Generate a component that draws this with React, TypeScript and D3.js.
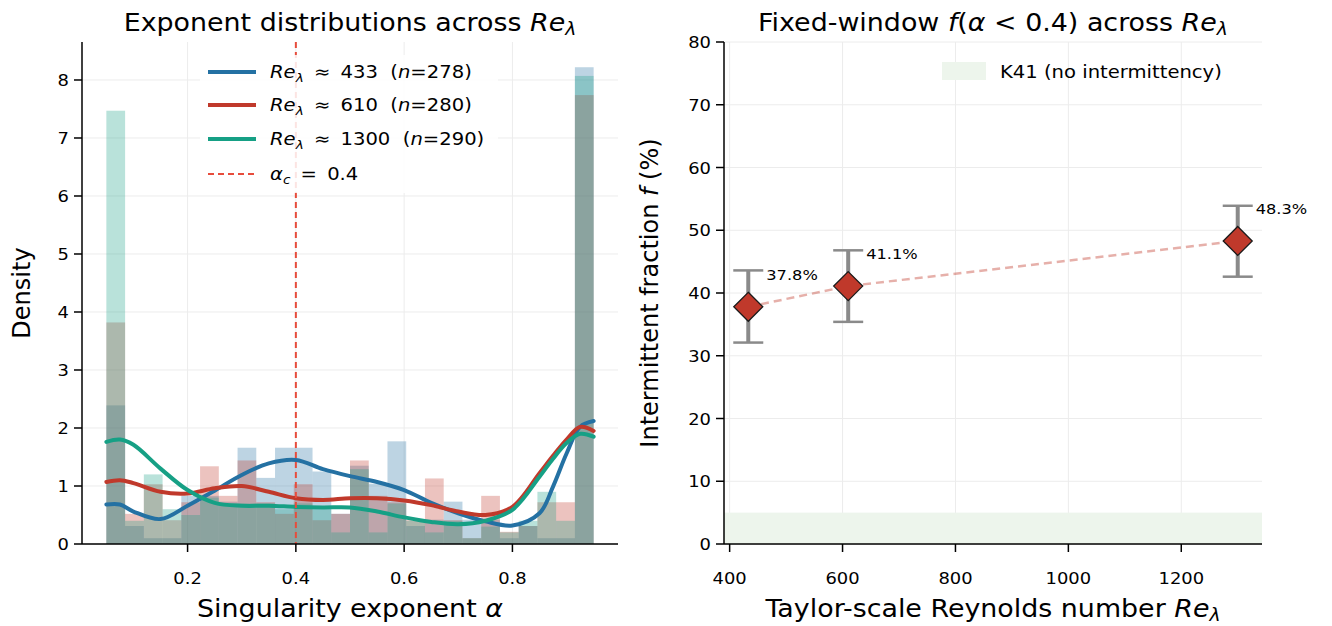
import React from 'react';
import * as d3 from 'd3';

// histogram bins (density), 26 bins across [0.05, 0.95]
const binLow = 0.05;
const binHigh = 0.95;
const histRe433 = [2.39, 0.31, 0.1, 0.1, 0.83, 0.83, 0.73, 1.66, 1.14, 1.66, 1.66, 1.25, 0.52, 1.35, 1.04, 1.77, 0.31, 0.42, 0.73, 0.42, 0.42, 0.1, 0.31, 0.1, 0.1, 8.22];
const histRe610 = [3.82, 0.52, 1.03, 0.41, 0.72, 1.34, 0.83, 1.44, 0.72, 0.52, 1.03, 0.41, 0.52, 1.44, 0.83, 0.72, 0.41, 1.13, 0.41, 0.1, 0.83, 0.21, 0.31, 0.72, 0.72, 7.74];
const histRe1300 = [7.47, 0.4, 1.2, 0.6, 0.5, 0.8, 0.7, 0.7, 0.7, 0.6, 0.7, 0.6, 0.2, 1.29, 0.2, 0.7, 0.4, 0.2, 0.4, 0.1, 0.3, 0.2, 0.4, 0.9, 0.4, 8.07];

// KDE curves
const kdeAlpha = [0.05, 0.075, 0.1, 0.15, 0.2, 0.25, 0.3, 0.35, 0.4, 0.45, 0.5, 0.55, 0.6, 0.65, 0.7, 0.75, 0.8, 0.85, 0.875, 0.9, 0.925, 0.95];
const kdeRe433 = [0.68, 0.68, 0.56, 0.43, 0.66, 0.92, 1.19, 1.39, 1.45, 1.29, 1.17, 1.07, 0.93, 0.71, 0.53, 0.39, 0.32, 0.53, 0.99, 1.56, 2.02, 2.12];
const kdeRe610 = [1.07, 1.1, 1.05, 0.9, 0.87, 0.96, 1.0, 0.9, 0.79, 0.76, 0.79, 0.79, 0.75, 0.67, 0.56, 0.5, 0.64, 1.22, 1.52, 1.8, 2.02, 1.95];
const kdeRe1300 = [1.76, 1.8, 1.71, 1.3, 0.93, 0.71, 0.66, 0.66, 0.64, 0.63, 0.63, 0.56, 0.46, 0.38, 0.34, 0.4, 0.59, 1.16, 1.47, 1.74, 1.9, 1.85];

const seriesRe = [433, 610, 1300];
const seriesN = [278, 280, 290];
const alphaC = 0.4;

// right panel
const reLambda = [433, 610, 1300];
const fracPct = [37.8, 41.1, 48.3];
const fracLow = [32.1, 35.4, 42.6];
const fracHigh = [43.6, 46.8, 53.9];
const k41Band = [0, 5];

const leftXTicks = [0.2, 0.4, 0.6, 0.8];
const leftYTicks = [0, 1, 2, 3, 4, 5, 6, 7, 8];
const rightXTicks = [400, 600, 800, 1000, 1200];
const rightYTicks = [0, 10, 20, 30, 40, 50, 60, 70, 80];

const BLUE = '#2471a3';
const RED = '#c0392b';
const TEAL = '#16a085';
const VLINE = '#e74c3c';
const GRID = '#ececec';
const BAND = '#edf5ec';
const FONT = 'DejaVu Sans, sans-serif';

const TOP = 42;
const BOTTOM = 544;
const SX = 1.12; // the reference text is a little wider than tall
const TICK = 8;

const tickFs = 16;
const labelFs = 24;
const legFs = 17.5;
const noteFs = 14.5;

// horizontally stretched text
function T({ x, y, size, anchor = 'start', children }: any) {
  return (
    <g transform={`translate(${x},${y}) scale(${SX},1)`}>
      <text fontSize={size} textAnchor={anchor}>{children}</text>
    </g>
  );
}

export default function App() {
  const xL = d3.scaleLinear().domain([0.005, 0.995]).range([82, 618]);
  const yL = d3.scaleLinear().domain([0, 8.655]).range([BOTTOM, TOP]);
  const xR = d3.scaleLinear().domain([390, 1343]).range([724, 1262]);
  const yR = d3.scaleLinear().domain([0, 80]).range([BOTTOM, TOP]);

  const nb = histRe433.length;
  const bw = (binHigh - binLow) / nb;
  const hists = [
    { data: histRe433, color: BLUE },
    { data: histRe610, color: RED },
    { data: histRe1300, color: TEAL },
  ];
  const kdes = [
    { data: kdeRe433, color: BLUE },
    { data: kdeRe610, color: RED },
    { data: kdeRe1300, color: TEAL },
  ];
  const kdeLine = d3
    .line<[number, number]>()
    .x((d) => xL(d[0]))
    .y((d) => yL(d[1]))
    .curve(d3.curveCatmullRom.alpha(0.5));

  const pts = reLambda.map((r, i) => ({ r, f: fracPct[i], lo: fracLow[i], hi: fracHigh[i] }));
  const connect = d3
    .line<{ r: number; f: number }>()
    .x((d) => xR(d.r))
    .y((d) => yR(d.f));

  const ls = legFs * 0.22;
  const lbs = labelFs * 0.17;

  return (
    <svg width={1332} height={626} style={{ position: 'absolute', left: 0, top: 0 }} fontFamily={FONT}>
      <rect width={1332} height={626} fill="#fff" />

      {/* ---------- left panel ---------- */}
      <g>
        {leftXTicks.map((t) => (
          <line key={'gx' + t} x1={xL(t)} x2={xL(t)} y1={TOP} y2={BOTTOM} stroke={GRID} strokeWidth={1} />
        ))}
        {leftYTicks.map((t) => (
          <line key={'gy' + t} x1={82} x2={618} y1={yL(t)} y2={yL(t)} stroke={GRID} strokeWidth={1} />
        ))}
        {hists.map((h, k) =>
          h.data.map((v, i) => {
            const x0 = xL(binLow + i * bw);
            const x1 = xL(binLow + (i + 1) * bw);
            return (
              <rect key={k + '-' + i} x={x0} y={yL(v)} width={x1 - x0} height={yL(0) - yL(v)} fill={h.color} fillOpacity={0.3} />
            );
          })
        )}
        {kdes.map((c, k) => (
          <path
            key={'kde' + k}
            d={kdeLine(kdeAlpha.map((a, i) => [a, c.data[i]] as [number, number])) || ''}
            fill="none"
            stroke={c.color}
            strokeWidth={4}
            strokeLinecap="round"
          />
        ))}
        <line x1={xL(alphaC)} x2={xL(alphaC)} y1={TOP} y2={BOTTOM} stroke={VLINE} strokeWidth={2} strokeDasharray="6,4" />

        {/* legend */}
        <rect x={200} y={55} width={298} height={138} fill="#fff" fillOpacity={0.85} rx={3} />
        {seriesRe.map((r, i) => {
          const y = [72, 105, 139][i];
          return (
            <g key={'leg' + i}>
              <line x1={208} x2={256} y1={y} y2={y} stroke={kdes[i].color} strokeWidth={4} />
              <T x={270} y={y + 6} size={legFs}>
                <tspan fontStyle="italic">Re</tspan>
                <tspan fontStyle="italic" fontSize={legFs * 0.7} dy={ls}>λ</tspan>
                <tspan dy={-ls}>{`\u2009 ≈\u2009 ${r}\u00a0\u00a0(`}</tspan>
                <tspan fontStyle="italic">n</tspan>
                <tspan>{`=${seriesN[i]})`}</tspan>
              </T>
            </g>
          );
        })}
        <line x1={208} x2={256} y1={174} y2={174} stroke={VLINE} strokeWidth={2} strokeDasharray="6,4" />
        <T x={270} y={180} size={legFs}>
          <tspan fontStyle="italic">α</tspan>
          <tspan fontStyle="italic" fontSize={legFs * 0.7} dy={ls}>c</tspan>
          <tspan dy={-ls}>{`\u2009 =\u2009 ${alphaC}`}</tspan>
        </T>

        {/* axes */}
        <line x1={82} x2={82} y1={TOP} y2={BOTTOM} stroke="#000" strokeWidth={1.5} />
        <line x1={82} x2={618} y1={BOTTOM} y2={BOTTOM} stroke="#000" strokeWidth={1.5} />
        {leftXTicks.map((t) => (
          <g key={'xt' + t}>
            <line x1={xL(t)} x2={xL(t)} y1={BOTTOM} y2={BOTTOM + TICK} stroke="#000" strokeWidth={1.5} />
            <T x={xL(t)} y={BOTTOM + 40} size={tickFs} anchor="middle">{t.toFixed(1)}</T>
          </g>
        ))}
        {leftYTicks.map((t) => (
          <g key={'yt' + t}>
            <line x1={82 - TICK} x2={82} y1={yL(t)} y2={yL(t)} stroke="#000" strokeWidth={1.5} />
            <T x={82 - 13} y={yL(t) + 6} size={tickFs} anchor="end">{t}</T>
          </g>
        ))}
        <T x={350} y={617} size={labelFs} anchor="middle">
          <tspan>{'Singularity exponent '}</tspan>
          <tspan fontStyle="italic">α</tspan>
        </T>
        <text transform={`translate(30, ${(TOP + BOTTOM) / 2}) rotate(-90)`} fontSize={labelFs} textAnchor="middle">Density</text>
        <T x={350} y={31} size={labelFs} anchor="middle">
          <tspan>{'Exponent distributions across '}</tspan>
          <tspan fontStyle="italic">Re</tspan>
          <tspan fontStyle="italic" fontSize={labelFs * 0.7} dy={lbs}>λ</tspan>
        </T>
      </g>

      {/* ---------- right panel ---------- */}
      <g>
        {rightXTicks.map((t) => (
          <line key={'rgx' + t} x1={xR(t)} x2={xR(t)} y1={TOP} y2={BOTTOM} stroke={GRID} strokeWidth={1} />
        ))}
        {rightYTicks.map((t) => (
          <line key={'rgy' + t} x1={724} x2={1262} y1={yR(t)} y2={yR(t)} stroke={GRID} strokeWidth={1} />
        ))}
        <rect x={724} y={yR(k41Band[1])} width={1262 - 724} height={yR(k41Band[0]) - yR(k41Band[1])} fill={BAND} />

        <path d={connect(pts) || ''} fill="none" stroke={RED} strokeOpacity={0.4} strokeWidth={2.5} strokeDasharray="8,5" />
        {pts.map((p, i) => (
          <g key={'eb' + i}>
            <line x1={xR(p.r)} x2={xR(p.r)} y1={yR(p.lo)} y2={yR(p.hi)} stroke="#8a8a8a" strokeWidth={4} />
            <line x1={xR(p.r) - 15} x2={xR(p.r) + 15} y1={yR(p.lo)} y2={yR(p.lo)} stroke="#8a8a8a" strokeWidth={2.5} />
            <line x1={xR(p.r) - 15} x2={xR(p.r) + 15} y1={yR(p.hi)} y2={yR(p.hi)} stroke="#8a8a8a" strokeWidth={2.5} />
          </g>
        ))}
        {pts.map((p, i) => {
          const cx = xR(p.r);
          const cy = yR(p.f);
          const s = 14.5;
          return (
            <g key={'pt' + i}>
              <path d={`M${cx},${cy - s}L${cx + s},${cy}L${cx},${cy + s}L${cx - s},${cy}Z`} fill={RED} stroke="#1a1a1a" strokeWidth={1.3} />
              <T x={cx + 18} y={cy - 27} size={noteFs}>{`${p.f.toFixed(1)}%`}</T>
            </g>
          );
        })}

        {/* legend */}
        <rect x={942} y={62} width={44} height={18} fill={BAND} />
        <T x={1000} y={78} size={legFs}>K41 (no intermittency)</T>

        {/* axes */}
        <line x1={724} x2={724} y1={TOP} y2={BOTTOM} stroke="#000" strokeWidth={1.5} />
        <line x1={724} x2={1262} y1={BOTTOM} y2={BOTTOM} stroke="#000" strokeWidth={1.5} />
        {rightXTicks.map((t) => (
          <g key={'rxt' + t}>
            <line x1={xR(t)} x2={xR(t)} y1={BOTTOM} y2={BOTTOM + TICK} stroke="#000" strokeWidth={1.5} />
            <T x={xR(t)} y={BOTTOM + 40} size={tickFs} anchor="middle">{t}</T>
          </g>
        ))}
        {rightYTicks.map((t) => (
          <g key={'ryt' + t}>
            <line x1={724 - TICK} x2={724} y1={yR(t)} y2={yR(t)} stroke="#000" strokeWidth={1.5} />
            <T x={724 - 13} y={yR(t) + 6} size={tickFs} anchor="end">{t}</T>
          </g>
        ))}
        <T x={993} y={617} size={labelFs} anchor="middle">
          <tspan>{'Taylor-scale Reynolds number '}</tspan>
          <tspan fontStyle="italic">Re</tspan>
          <tspan fontStyle="italic" fontSize={labelFs * 0.7} dy={lbs}>λ</tspan>
        </T>
        <text transform={`translate(658, ${(TOP + BOTTOM) / 2}) rotate(-90)`} fontSize={labelFs} textAnchor="middle">
          <tspan>{'Intermittent fraction '}</tspan>
          <tspan fontStyle="italic">f</tspan>
          <tspan>{' (%)'}</tspan>
        </text>
        <T x={993} y={31} size={labelFs} anchor="middle">
          <tspan>{'Fixed-window '}</tspan>
          <tspan fontStyle="italic">f</tspan>
          <tspan>(</tspan>
          <tspan fontStyle="italic">α</tspan>
          <tspan>{' < 0.4) across '}</tspan>
          <tspan fontStyle="italic">Re</tspan>
          <tspan fontStyle="italic" fontSize={labelFs * 0.7} dy={lbs}>λ</tspan>
        </T>
      </g>
    </svg>
  );
}
